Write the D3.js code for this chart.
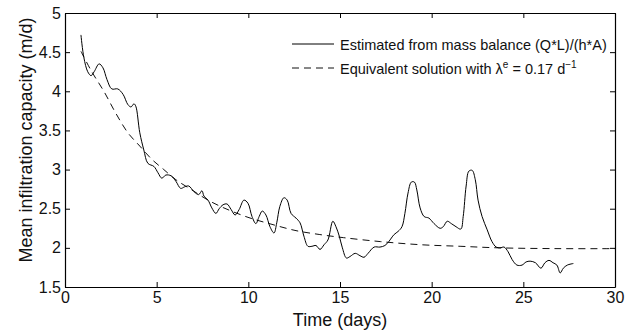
<!DOCTYPE html>
<html><head><meta charset="utf-8">
<script src="https://cdn.jsdelivr.net/npm/d3@7"></script>
<style>body{margin:0;background:#fff}svg{display:block}text{font-family:"Liberation Sans",Arial,sans-serif;fill:#111}</style>
</head><body>
<script>
// Estimated from mass balance (solid)
const estT = [0.87,1.03,1.24,1.42,1.59,1.86,2.07,2.29,2.55,2.88,3.17,3.43,3.60,3.76,3.86,4.08,4.30,4.52,4.85,5.07,5.28,5.50,5.79,6.05,6.31,6.53,6.75,7.03,7.29,7.47,7.58,7.80,8.01,8.23,8.41,8.62,8.84,9.06,9.28,9.50,9.76,9.98,10.2,10.41,10.59,10.76,10.96,11.18,11.40,11.55,11.72,11.94,12.12,12.33,12.60,12.82,13.03,13.25,13.47,13.69,13.91,14.13,14.34,14.61,14.78,14.96,15.13,15.35,15.55,15.83,16.09,16.31,16.53,16.86,17.18,17.45,17.66,17.95,18.17,18.38,18.54,18.71,18.89,19.06,19.19,19.37,19.59,19.85,20.13,20.46,20.63,20.85,21.07,21.33,21.59,21.72,21.88,22.03,22.21,22.38,22.53,22.75,23.03,23.29,23.52,23.73,23.95,24.17,24.39,24.65,24.93,25.15,25.37,25.66,25.96,26.18,26.40,26.62,26.83,27.01,27.18,27.40,27.73];
const estV = [4.72,4.43,4.25,4.20,4.25,4.35,4.30,4.15,4.03,4.03,3.96,3.83,3.80,3.84,3.81,3.47,3.25,3.08,3.04,2.96,2.89,2.93,2.92,2.85,2.76,2.78,2.79,2.72,2.68,2.73,2.66,2.61,2.51,2.44,2.50,2.55,2.56,2.49,2.42,2.49,2.61,2.57,2.40,2.31,2.40,2.47,2.42,2.27,2.19,2.32,2.53,2.64,2.61,2.44,2.38,2.32,2.15,2.02,2.02,2.03,1.98,2.04,2.10,2.34,2.27,2.15,2.00,1.87,1.89,1.93,1.90,1.88,1.93,2.01,2.01,2.03,2.08,2.17,2.21,2.27,2.44,2.70,2.84,2.84,2.74,2.51,2.40,2.38,2.31,2.25,2.27,2.34,2.31,2.27,2.24,2.40,2.79,2.98,2.99,2.87,2.61,2.40,2.23,2.08,2.01,2.00,2.01,1.95,1.85,1.78,1.78,1.82,1.83,1.81,1.74,1.81,1.84,1.81,1.78,1.68,1.74,1.78,1.80];
// Equivalent solution (dashed)
const eqT = [0.87,1.46,2.12,2.77,3.43,4.08,4.74,5.39,6.05,6.92,7.80,8.67,9.98,11.29,12.6,13.9,15.2,17.2,19.4,21.55,23.7,27.0,30];
const eqV = [4.51,4.25,4.00,3.72,3.47,3.30,3.13,3.00,2.87,2.74,2.61,2.51,2.39,2.30,2.22,2.17,2.13,2.08,2.04,2.02,2.00,1.99,1.99];
const xTicks = [0,5,10,15,20,25,30];
const yTicks = [1.5,2,2.5,3,3.5,4,4.5,5];
const legendLabels = ["Estimated from mass balance (Q*L)/(h*A)", "Equivalent solution with λ"];

const W=628,H=333, m={l:65,r:13,t:13,b:46};
const svg=d3.select("body").append("svg").attr("width",W).attr("height",H);
const x=d3.scaleLinear().domain([0,30]).range([m.l,W-m.r]);
const y=d3.scaleLinear().domain([1.5,5]).range([H-m.b,m.t]);
const pw=W-m.r-m.l, ph=H-m.b-m.t;

const g=svg.append("g");
const fmt=d=>String(d);
const ax=[
 [d3.axisBottom(x).tickValues(xTicks).tickFormat(fmt),`translate(0,${H-m.b})`,5],
 [d3.axisTop(x).tickValues(xTicks).tickFormat(""),`translate(0,${m.t})`,4],
 [d3.axisLeft(y).tickValues(yTicks).tickFormat(fmt),`translate(${m.l},0)`,4],
 [d3.axisRight(y).tickValues(yTicks).tickFormat(""),`translate(${W-m.r},0)`,4]
];
ax.forEach(([a,t,p])=>{
  const sel=g.append("g").attr("transform",t).call(a.tickSizeInner(-5).tickSizeOuter(0).tickPadding(p));
  sel.select(".domain").attr("stroke","#000").attr("stroke-width",1.2);
  sel.selectAll(".tick line").attr("stroke","#000");
  sel.selectAll("text").attr("font-size",16).attr("font-family","Liberation Sans, Arial, sans-serif").attr("fill","#111");
});

const line=d3.line().x(d=>x(d[0])).y(d=>y(d[1])).curve(d3.curveCatmullRom.alpha(0.5));
svg.append("path").datum(eqT.map((t,i)=>[t,eqV[i]])).attr("d",line)
  .attr("fill","none").attr("stroke","#111").attr("stroke-width",1).attr("stroke-dasharray","7,5");
svg.append("path").datum(estT.map((t,i)=>[t,estV[i]])).attr("d",line)
  .attr("fill","none").attr("stroke","#000").attr("stroke-width",1);

// legend
const lg=svg.append("g");
lg.append("line").attr("x1",292).attr("x2",334).attr("y1",44).attr("y2",44).attr("stroke","#000");
lg.append("line").attr("x1",292).attr("x2",334).attr("y1",68).attr("y2",68).attr("stroke","#111").attr("stroke-dasharray","7,5");
lg.append("text").attr("x",340).attr("y",50).attr("font-size",14.5).text(legendLabels[0]);
const t2=lg.append("text").attr("x",340).attr("y",74).attr("font-size",14.5);
t2.append("tspan").text(legendLabels[1]);
t2.append("tspan").attr("dy",-6).attr("font-size",10).text("e");
t2.append("tspan").attr("dy",6).text(" = 0.17 d");
t2.append("tspan").attr("dy",-6).attr("font-size",10).text("−1");

// axis titles
svg.append("text").attr("x",x(15)).attr("y",326).attr("text-anchor","middle").attr("font-size",18).text("Time (days)");
svg.append("text").attr("transform",`translate(32,140) rotate(-90)`).attr("text-anchor","middle").attr("font-size",18).text("Mean infiltration capacity (m/d)");
</script>
</body></html>
